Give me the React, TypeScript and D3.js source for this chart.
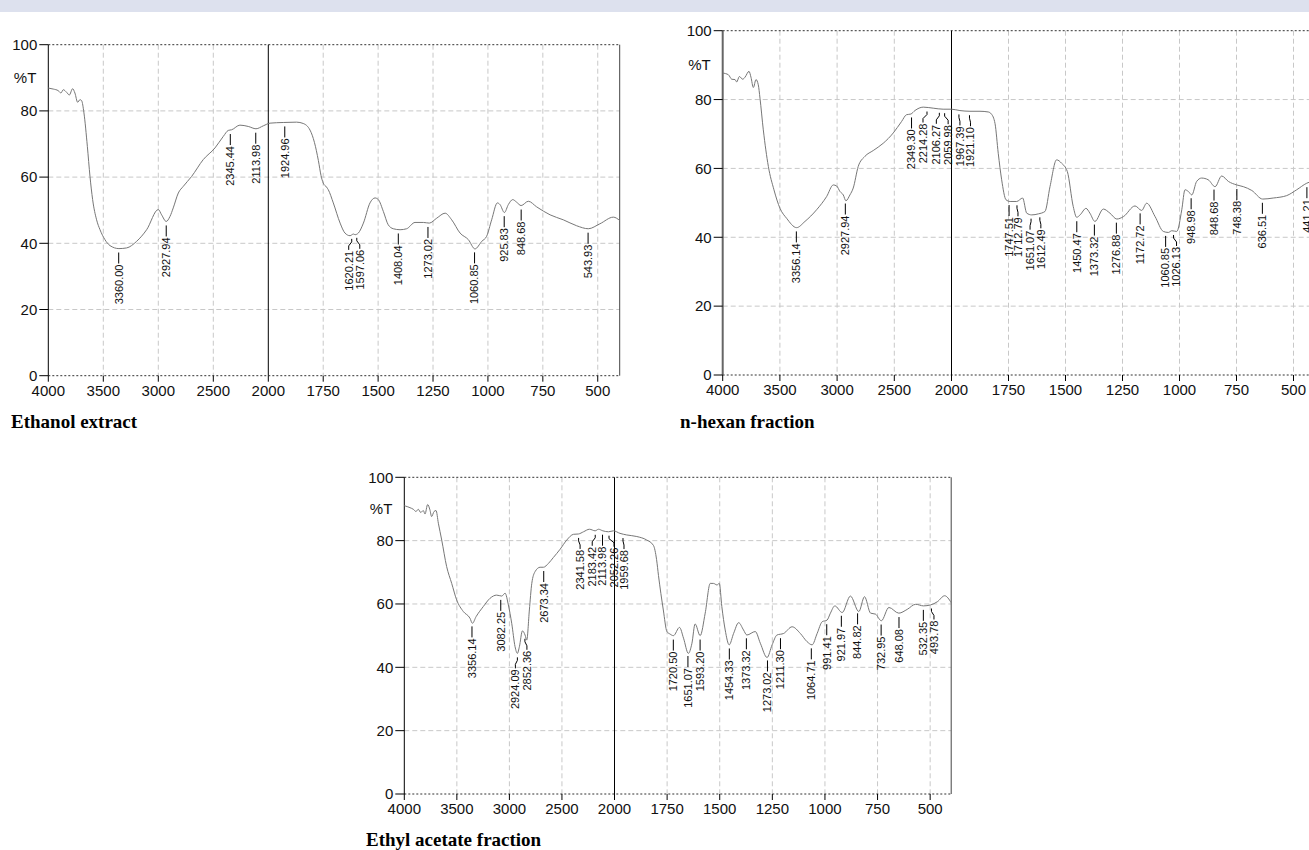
import React from 'react';
import * as d3 from 'd3';

const xTicks = [4000, 3500, 3000, 2500, 2000, 1750, 1500, 1250, 1000, 750, 500];
const yTicks = [0, 20, 40, 60, 80, 100];

// Ethanol extract
const ethanolWave = [4000, 3955, 3909, 3885, 3864, 3833, 3809, 3779, 3758, 3733, 3712, 3697, 3676, 3645, 3621, 3597, 3561, 3530, 3485, 3439, 3358, 3288, 3197, 3106, 3000, 2970, 2928, 2894, 2864, 2818, 2773, 2697, 2591, 2485, 2409, 2364, 2333, 2258, 2182, 2112, 2045, 1992, 1932, 1871, 1841, 1810, 1790, 1772, 1760, 1750, 1735, 1727, 1704, 1673, 1651, 1628, 1612, 1605, 1590, 1567, 1537, 1514, 1499, 1476, 1454, 1431, 1400, 1370, 1332, 1294, 1267, 1233, 1195, 1165, 1127, 1089, 1059, 1028, 1006, 983, 957, 945, 925, 907, 887, 869, 849, 816, 778, 717, 657, 596, 543, 490, 429, 400];
const ethanolT = [86.9, 86.6, 86.1, 85.4, 86.4, 85.6, 84.8, 86.7, 85.4, 82.6, 83.4, 83.1, 79.4, 69.3, 60.2, 53.2, 47.1, 44.1, 41.1, 39.3, 38.4, 38.6, 40.6, 44.1, 50.2, 48.6, 46.6, 48.1, 50.7, 55.2, 57.2, 60.2, 65.3, 68.8, 72.3, 74.1, 74.3, 75.7, 75.3, 74.6, 75.5, 76.3, 76.5, 76.6, 76.2, 74.2, 70.5, 65.0, 60.5, 58.2, 57.0, 56.2, 52.2, 46.1, 43.1, 42.3, 42.8, 42.6, 43.1, 46.1, 52.2, 53.7, 53.2, 49.6, 45.6, 44.4, 44.1, 44.4, 46.3, 46.3, 46.1, 47.6, 49.1, 47.1, 43.1, 41.1, 38.3, 40.6, 42.1, 47.1, 52.2, 51.7, 49.3, 51.7, 53.2, 52.4, 51.4, 52.7, 51.0, 48.6, 47.1, 45.3, 44.4, 45.9, 47.9, 46.9];
const ethanolPeaks = [3360.0, 2927.94, 2345.44, 2113.98, 1924.96, 1620.21, 1597.06, 1408.04, 1273.02, 1060.85, 925.83, 848.68, 543.93];

// n-hexan fraction
const hexanWave = [4000, 3950, 3921, 3892, 3878, 3854, 3825, 3805, 3770, 3753, 3732, 3709, 3689, 3674, 3645, 3601, 3552, 3499, 3441, 3354, 3281, 3179, 3092, 3033, 3004, 2975, 2946, 2923, 2888, 2859, 2815, 2757, 2684, 2597, 2509, 2437, 2393, 2355, 2320, 2247, 2160, 2073, 2000, 1963, 1919, 1875, 1839, 1825, 1809, 1795, 1780, 1761, 1743, 1714, 1688, 1670, 1648, 1619, 1590, 1568, 1539, 1517, 1492, 1466, 1451, 1436, 1410, 1393, 1371, 1334, 1305, 1275, 1246, 1195, 1166, 1144, 1107, 1071, 1049, 1034, 1012, 990, 976, 961, 946, 925, 903, 874, 844, 815, 785, 749, 720, 683, 635, 589, 530, 486, 442, 400];
const hexanT = [87.7, 87.2, 85.9, 85.8, 85.1, 86.7, 85.9, 86.5, 88.2, 86.5, 83.5, 85.8, 84.3, 80.4, 71.2, 60.6, 53.8, 48.4, 45.5, 42.8, 44.6, 48.0, 51.8, 55.2, 54.9, 53.3, 52.3, 50.6, 52.3, 54.3, 60.6, 63.5, 65.2, 67.3, 70.3, 73.6, 75.6, 75.8, 76.8, 77.8, 77.5, 77.2, 77.2, 76.8, 76.6, 76.6, 76.4, 75.8, 73.0, 64.4, 56.7, 50.9, 50.4, 50.4, 51.4, 47.0, 46.5, 46.8, 47.5, 54.7, 62.5, 61.5, 59.1, 48.9, 45.8, 46.5, 48.4, 47.0, 44.6, 48.2, 47.0, 45.3, 46.0, 49.1, 47.8, 49.9, 46.0, 41.7, 41.4, 41.9, 41.7, 48.0, 53.8, 53.3, 52.3, 56.2, 57.2, 56.7, 54.7, 57.8, 56.2, 55.2, 54.7, 53.6, 51.1, 51.4, 52.1, 53.8, 55.7, 56.5];
const hexanPeaks = [3356.14, 2927.94, 2349.3, 2214.28, 2106.27, 2059.98, 1967.39, 1921.1, 1747.51, 1712.79, 1651.07, 1612.49, 1450.47, 1373.32, 1276.88, 1172.72, 1060.85, 1026.13, 948.98, 848.68, 748.38, 636.51, 441.21];

// Ethyl acetate fraction
const ethylWave = [4000, 3987, 3946, 3914, 3889, 3867, 3844, 3819, 3803, 3778, 3756, 3740, 3717, 3698, 3676, 3644, 3597, 3549, 3502, 3438, 3375, 3352, 3317, 3248, 3184, 3121, 3073, 3041, 3010, 2978, 2946, 2924, 2905, 2876, 2851, 2835, 2810, 2787, 2756, 2708, 2676, 2629, 2581, 2517, 2454, 2390, 2343, 2295, 2238, 2184, 2152, 2111, 2057, 2010, 1974, 1942, 1894, 1847, 1815, 1800, 1791, 1768, 1751, 1736, 1720, 1691, 1672, 1649, 1632, 1617, 1593, 1569, 1545, 1530, 1513, 1502, 1490, 1474, 1455, 1434, 1410, 1387, 1371, 1331, 1307, 1275, 1251, 1228, 1196, 1156, 1117, 1085, 1061, 1037, 1013, 990, 974, 953, 918, 879, 839, 812, 783, 760, 732, 696, 649, 609, 569, 532, 498, 466, 431, 400];
const ethylT = [91.0, 90.9, 90.4, 89.9, 89.2, 89.9, 88.9, 89.5, 88.4, 91.4, 89.7, 87.6, 89.2, 89.5, 85.5, 80.2, 71.8, 66.5, 61.3, 57.6, 55.5, 53.9, 56.0, 59.2, 61.8, 62.8, 62.5, 63.4, 59.7, 53.9, 46.5, 44.4, 46.5, 51.5, 50.2, 48.6, 58.1, 66.5, 70.2, 71.6, 71.6, 72.8, 74.7, 77.3, 80.2, 82.0, 82.1, 82.8, 83.6, 83.1, 83.6, 83.1, 82.8, 83.1, 82.3, 81.8, 81.3, 80.2, 78.5, 74.0, 69.0, 58.1, 51.3, 50.5, 50.0, 52.6, 49.2, 44.4, 47.6, 53.7, 50.0, 57.1, 66.5, 66.5, 66.0, 66.5, 59.2, 51.8, 47.1, 50.7, 54.1, 51.8, 50.2, 51.3, 47.6, 43.1, 47.1, 50.2, 50.7, 52.8, 50.7, 48.1, 47.1, 50.7, 54.4, 54.9, 57.1, 59.4, 57.3, 62.5, 57.6, 62.3, 57.1, 56.8, 54.7, 58.9, 57.1, 58.3, 59.9, 59.4, 59.7, 60.7, 62.6, 60.4];
const ethylPeaks = [3356.14, 3082.25, 2924.09, 2852.36, 2673.34, 2341.58, 2183.42, 2113.98, 2052.26, 1959.68, 1720.5, 1651.07, 1593.2, 1454.33, 1373.32, 1273.02, 1211.3, 1064.71, 991.41, 921.97, 844.82, 732.95, 648.08, 532.35, 493.78];

// small sideways shifts of crowded labels (px)
const ethanolShift: Record<string, number> = { '1620.21': -3, '1597.06': 3 };
const hexanShift: Record<string, number> = { '2214.28': -4, '2106.27': -3, '2059.98': 3.5, '1967.39': 1, '1921.10': 1, '1712.79': 1, '1651.07': -1, '1612.49': 1, '1026.13': 3 };
const ethylShift: Record<string, number> = { '2924.09': -2, '2852.36': 2, '2341.58': 1.5, '2183.42': -3, '2052.26': 5, '1959.68': 1, '493.78': 2.5 };

const sans = 'Arial, "Liberation Sans", sans-serif';
const serif = '"Times New Roman", "Liberation Serif", serif';

type SpectrumProps = {
  wave: number[];
  trans: number[];
  peaks: number[];
  shift: Record<string, number>;
  caption: string;
  left: number;
  mid: number;
  right: number;
  top: number;
  bottom: number;
  captionX: number;
  captionY: number;
  axisW?: number;
};

function Spectrum(p: SpectrumProps) {
  const x = d3.scaleLinear().domain([4000, 2000, 400]).range([p.left, p.mid, p.right]);
  const y = d3.scaleLinear().domain([0, 100]).range([p.bottom, p.top]);
  const pts: [number, number][] = p.wave.map((w, i) => [w, p.trans[i]]);
  const line = d3.line<[number, number]>()
    .curve(d3.curveMonotoneX)
    .x((d) => x(d[0]))
    .y((d) => y(d[1]));

  // %T under a label, for placing its leader
  const tAt = (w: number) => {
    for (let i = 0; i < p.wave.length - 1; i++) {
      if (p.wave[i] >= w && w >= p.wave[i + 1]) {
        const f = (p.wave[i] - w) / (p.wave[i] - p.wave[i + 1]);
        return p.trans[i] + f * (p.trans[i + 1] - p.trans[i]);
      }
    }
    return p.trans[p.trans.length - 1];
  };

  return (
    <g>
      {/* grid */}
      {yTicks.filter((t) => t > 0 && t < 100).map((t) => (
        <line key={'h' + t} x1={p.left} x2={p.right} y1={y(t)} y2={y(t)}
          stroke="#c8c8c8" strokeDasharray="5,3" />
      ))}
      {xTicks.filter((t) => t !== 4000 && t !== 2000).map((t) => (
        <line key={'v' + t} x1={x(t)} x2={x(t)} y1={p.top} y2={p.bottom}
          stroke="#c8c8c8" strokeDasharray="5,3" />
      ))}
      <line x1={p.left} x2={p.right} y1={p.top} y2={p.top} stroke="#333" strokeDasharray="2,2" />
      <line x1={p.left} x2={p.right} y1={p.bottom} y2={p.bottom} stroke="#333" strokeDasharray="2,2" />
      <line x1={x(2000)} x2={x(2000)} y1={p.top} y2={p.bottom} stroke="#000" />
      <line x1={p.right} x2={p.right} y1={p.top} y2={p.bottom} stroke="#444" />
      <line x1={p.left} x2={p.left} y1={p.top} y2={p.bottom} stroke={p.axisW ? '#666' : '#000'} strokeWidth={p.axisW || 1} />

      {/* y axis */}
      {yTicks.map((t) => (
        <g key={'yt' + t}>
          <line x1={p.left - 9} x2={p.left} y1={y(t)} y2={y(t)} stroke="#000" />
          <text x={p.left - 11} y={y(t)} dy="0.35em" textAnchor="end" fontFamily={sans} fontSize={15} fill="#111">{t}</text>
        </g>
      ))}
      <text x={p.left - 12} y={y(90)} dy="0.35em" textAnchor="end" fontFamily={sans} fontSize={15} fill="#111">%T</text>

      {/* x axis */}
      {xTicks.map((t) => (
        <g key={'xt' + t}>
          <line x1={x(t)} x2={x(t)} y1={p.bottom} y2={p.bottom + 6} stroke="#000" />
          <text x={x(t)} y={p.bottom + 20} textAnchor="middle" fontFamily={sans} fontSize={15} fill="#111">{t}</text>
        </g>
      ))}

      {/* spectrum */}
      <path d={line(pts) || ''} fill="none" stroke="#777" strokeWidth={1} />

      {/* peak labels */}
      {p.peaks.map((w) => {
        const label = w.toFixed(2);
        const px = x(w);
        const lx = px + (p.shift[label] || 0);
        const cy = y(tAt(w));
        const y0 = cy + 4;
        const y1 = cy + 15;
        const d = lx === px
          ? `M${px},${y0}L${px},${y1}`
          : `M${px},${y0}L${px},${y0 + 3}L${lx},${y0 + 7}L${lx},${y1}`;
        return (
          <g key={'pk' + label}>
            <path d={d} fill="none" stroke="#000" strokeWidth={1} />
            <text transform={`translate(${lx},${y1 + 1}) rotate(-90)`} dy="0.35em" textAnchor="end"
              fontFamily={sans} fontSize={11} fill="#111">{label}</text>
          </g>
        );
      })}

      <text x={p.captionX} y={p.captionY} fontFamily={serif} fontWeight="bold" fontSize={19} fill="#000">{p.caption}</text>
    </g>
  );
}

export default function App() {
  return (
    <svg width={1309} height={850} style={{ position: 'absolute', left: 0, top: 0, background: '#fff' }}>
      <rect x={0} y={0} width={1309} height={12} fill="#dde1ee" />
      <Spectrum wave={ethanolWave} trans={ethanolT} peaks={ethanolPeaks} shift={ethanolShift}
        caption="Ethanol extract" left={48.3} mid={268.3} right={619.7} top={44.7} bottom={375.7}
        captionX={11} captionY={428} />
      <Spectrum wave={hexanWave} trans={hexanT} peaks={hexanPeaks} shift={hexanShift}
        caption="n-hexan fraction" left={722.7} mid={951.5} right={1316.3} top={30.7} bottom={375}
        captionX={680} captionY={428} axisW={2} />
      <Spectrum wave={ethylWave} trans={ethylT} peaks={ethylPeaks} shift={ethylShift}
        caption="Ethyl acetate fraction" left={404.3} mid={614.5} right={951.2} top={477.3} bottom={794}
        captionX={366} captionY={846} />
    </svg>
  );
}
